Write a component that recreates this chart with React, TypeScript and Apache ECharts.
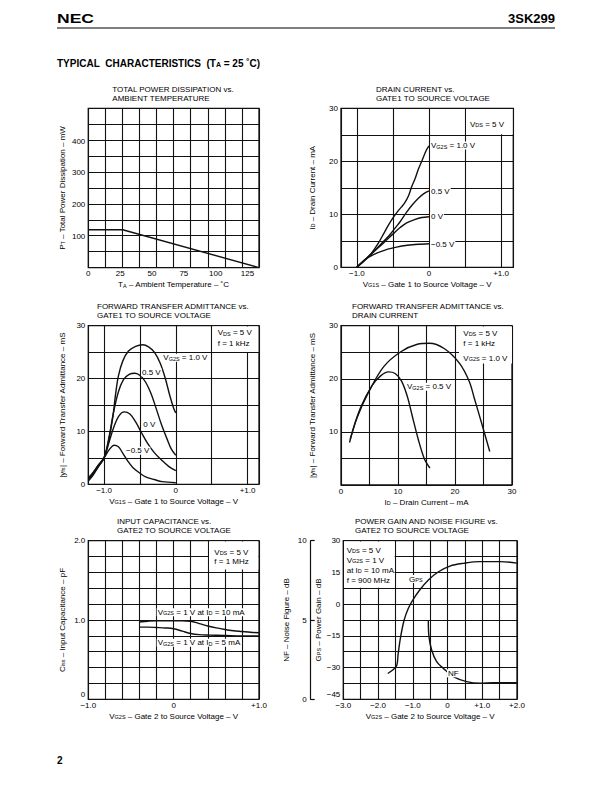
import React, { useEffect, useRef } from "react";
import * as echarts from "echarts";

const FONT = "'Liberation Sans', Arial, Helvetica, sans-serif";
const INK = "#111";

// ---------------- data ----------------
// 1. Total power dissipation vs ambient temperature
const pdTemperature = [0, 27, 134];
const pdPower = [120, 120, 0];
const pdXTicks = [0, 25, 50, 75, 100, 125];
const pdYTicks = [100, 200, 300, 400];

// 2. Drain current vs gate1-source voltage  [VG1S, ID]
const idVg2s10 = [[-1, 0], [-0.9, 1.2], [-0.8, 2.6], [-0.7, 4.6], [-0.63, 6.3], [-0.56, 8.0], [-0.49, 9.5], [-0.43, 10.6], [-0.38, 11.4], [-0.33, 12.3], [-0.28, 13.6], [-0.24, 15.2], [-0.19, 16.8], [-0.15, 18.4], [-0.1, 20.0], [-0.04, 22.0], [0, 22.9]];
const idVg2s05 = [[-1, 0], [-0.9, 1.3], [-0.8, 2.5], [-0.72, 3.6], [-0.63, 4.9], [-0.54, 6.2], [-0.47, 7.4], [-0.4, 8.6], [-0.31, 10.4], [-0.23, 11.8], [-0.15, 13.0], [-0.07, 13.9], [0, 14.4]];
const idVg2s00 = [[-1, 0], [-0.88, 1.5], [-0.77, 2.9], [-0.63, 4.6], [-0.49, 6.4], [-0.4, 7.5], [-0.31, 8.4], [-0.2, 9.0], [-0.1, 9.4], [0, 9.55]];
const idVg2sM05 = [[-1, 0], [-0.9, 1.3], [-0.77, 2.4], [-0.6, 3.3], [-0.45, 3.8], [-0.3, 4.15], [-0.15, 4.35], [0, 4.45]];
const idYTicks = [0, 10, 20, 30];
const gateXTicks = [-1, 0, 1];
const gateXText = ["\u22121.0", "0", "+1.0"];

// 3. |yfs| vs gate1-source voltage  [VG1S, yfs]
const yfsVgVg2s10 = [[-1.22, 0.6], [-1.15, 1.8], [-1.08, 3.3], [-1.0, 5.0], [-0.94, 8.0], [-0.88, 12.5], [-0.84, 17.0], [-0.8, 20.5], [-0.74, 23.3], [-0.66, 25.2], [-0.56, 26.1], [-0.46, 26.4], [-0.38, 26.0], [-0.3, 25.0], [-0.22, 23.0], [-0.15, 20.2], [-0.08, 16.6], [-0.03, 14.4], [0, 13.5]];
const yfsVgVg2s05 = [[-1.22, 0.8], [-1.15, 2.0], [-1.08, 3.4], [-1.0, 5.0], [-0.93, 9.0], [-0.87, 13.5], [-0.8, 17.5], [-0.73, 19.8], [-0.65, 20.8], [-0.57, 21.0], [-0.49, 20.5], [-0.42, 19.3], [-0.35, 17.3], [-0.28, 14.6], [-0.2, 11.3], [-0.12, 8.5], [-0.06, 6.6], [0, 5.5]];
const yfsVgVg2s00 = [[-1.22, 1.0], [-1.15, 2.2], [-1.08, 3.6], [-1.0, 5.0], [-0.93, 8.0], [-0.86, 11.0], [-0.79, 13.0], [-0.72, 13.7], [-0.64, 13.3], [-0.56, 11.8], [-0.48, 9.8], [-0.4, 7.9], [-0.3, 6.0], [-0.2, 4.6], [-0.1, 3.4], [0, 2.6]];
const yfsVgVg2sM05 = [[-1.22, 1.2], [-1.15, 2.3], [-1.08, 3.6], [-1.0, 5.0], [-0.93, 6.5], [-0.86, 7.4], [-0.8, 7.1], [-0.74, 5.9], [-0.67, 4.4], [-0.6, 3.2], [-0.5, 2.1], [-0.42, 1.4], [-0.3, 0.9], [-0.19, 0.5], [0, 0.3]];

// 4. |yfs| vs drain current  [ID, yfs]
const yfsIdVg2s10 = [[1.5, 8.0], [2.8, 12.6], [4.9, 17.6], [7.5, 22.3], [10.5, 25.1], [13.4, 26.5], [15.5, 26.7], [18.1, 25.7], [20.8, 22.9], [22.5, 19.5], [23.4, 16.3], [24.6, 11.9], [26.1, 6.3]];
const yfsIdVg2s05 = [[1.6, 8.6], [3.4, 14.5], [5.5, 18.8], [7.0, 20.6], [8.3, 21.3], [9.5, 21.0], [10.6, 19.6], [11.6, 16.8], [12.5, 13.0], [13.5, 8.8], [14.6, 5.0], [15.6, 3.2]];
const idXTicks = [0, 10, 20, 30];
const yfsYTicks = [10, 20, 30];

// 5. Input capacitance vs gate2-source voltage  [VG2S, Ciss]
const cissId10 = [[-0.4, 0.975], [-0.3, 0.985], [-0.2, 0.99], [0, 0.99], [0.1, 0.99], [0.2, 0.985], [0.3, 0.955], [0.4, 0.925], [0.5, 0.9], [0.6, 0.88], [0.7, 0.865], [0.8, 0.855], [0.9, 0.845], [1.0, 0.84]];
const cissId5 = [[-0.4, 0.91], [-0.3, 0.91], [-0.2, 0.905], [-0.1, 0.9], [0, 0.89], [0.1, 0.86], [0.2, 0.83], [0.3, 0.815], [0.4, 0.81], [0.6, 0.805], [0.8, 0.8], [1.0, 0.8]];
const cissYTicks = [0, 1, 2];
const cissYText = ["{b|0}", "1.0", "2.0"];

// 6. Power gain and noise figure vs gate2-source voltage
const gpsCurve = [[-1.72, -32.8], [-1.56, -30.9], [-1.46, -28.9], [-1.42, -23.4], [-1.35, -15.5], [-1.25, -7.6], [-1.13, -2.1], [-1.0, 1.9], [-0.79, 6.9], [-0.55, 11.4], [-0.26, 15.3], [0.07, 18.0], [0.46, 19.3], [0.93, 20.1], [1.51, 20.1], [2.0, 19.4]];
const nfCurve = [[-0.553, 4.94], [-0.534, 3.95], [-0.457, 3.11], [-0.313, 2.37], [-0.12, 1.95], [0.167, 1.43], [0.551, 1.11], [0.935, 1.01], [1.32, 1.05], [2.0, 1.05]];
const g2XTicks = [-3, -2, -1, 0, 1, 2];
const g2XText = ["\u22123.0", "\u22122.0", "\u22121.0", "0", "+1.0", "+2.0"];
const gpsYTicks = [-45, -30, -15, 0, 15, 30];
const gpsYText = ["{b|\u221245}", "\u221230", "\u221215", "0", "15", "30"];
const nfYTicks = [0, 5, 10];

// ---------------- helpers ----------------
const near = (a: number, b: number) => Math.abs(a - b) < 1e-6;
const fmt = (ticks: number[], texts?: string[]) => (v: number) => {
  const i = ticks.findIndex((t) => near(t, v));
  return i < 0 ? "" : texts ? texts[i] : String(ticks[i]);
};

const RICH_EC = { s: { fontSize: 5.5, fontFamily: FONT, color: "#000", verticalAlign: "bottom" } };
const RICH_G = { s: { fontSize: 5.5, fontFamily: FONT, fill: "#000", verticalAlign: "bottom" } };
const labelStyle = {
  fontSize: 8, fontFamily: FONT, color: "#000",
  rich: { b: { fontSize: 8, fontFamily: FONT, color: "#000", padding: [0, 0, 9, 0] } },
};
const nameStyle = { fontSize: 8, fontFamily: FONT, color: "#000", rich: RICH_EC };
const gridLine = { show: true, lineStyle: { color: INK, width: 1.1 } };
const noLine = { show: false };

function mainX(gridIndex: number, min: number, max: number, extra: any, ticks: number[], texts: string[] | undefined, name: string) {
  return {
    type: "value", gridIndex, min, max, ...extra,
    axisLine: noLine, axisTick: noLine,
    axisLabel: { ...labelStyle, margin: 2, formatter: fmt(ticks, texts), hideOverlap: false, showMinLabel: true, showMaxLabel: true },
    name, nameLocation: "middle", nameGap: 13, nameTextStyle: nameStyle, nameMoveOverlap: false,
  };
}
function mainY(gridIndex: number, min: number, max: number, extra: any, ticks: number[], texts: string[] | undefined, name: string, gap: number) {
  return {
    type: "value", gridIndex, min, max, ...extra,
    axisLine: noLine, axisTick: noLine,
    axisLabel: { ...labelStyle, margin: 3, formatter: fmt(ticks, texts), hideOverlap: false, showMinLabel: true, showMaxLabel: true },
    name, nameLocation: "middle", nameGap: gap, nameTextStyle: nameStyle, nameMoveOverlap: false,
  };
}
function curve(xi: number, yi: number, data: number[][], smooth: number | boolean = 0.35) {
  return {
    type: "line", xAxisIndex: xi, yAxisIndex: yi, data, symbol: "none", smooth,
    lineStyle: { color: INK, width: 1.4 }, z: 3, silent: true,
  };
}
function text(x: number, y: number, t: string, extra: any = {}) {
  return {
    type: "text", x, y, z: 20, silent: true,
    style: { text: t, fontSize: 8, fontFamily: FONT, fill: "#000", align: "left", verticalAlign: "middle", rich: RICH_G, ...extra },
  };
}
function box(x: number, y: number, w: number, h: number) {
  return { type: "rect", z: 1, silent: true, shape: { x, y, width: w, height: h }, style: { fill: "#fff" } };
}
const bg = { backgroundColor: "#fff", padding: [0, 1] };

const gridBase = { show: true, borderColor: INK, borderWidth: 1.3, backgroundColor: "transparent", containLabel: false, outerBoundsMode: "none" };

export default function App() {
  const ref = useRef<HTMLDivElement>(null);
  useEffect(() => {
    if (!ref.current) return;
    const chart = echarts.init(ref.current, undefined, { renderer: "svg" });
    const gateMinMax = { minInterval: 0.5, maxInterval: 0.5 };
    const option: any = {
      animation: false,
      backgroundColor: "#fff",
      grid: [
        { ...gridBase, left: 88.3, top: 108.3, width: 170.7, height: 159.3 },
        { ...gridBase, left: 341, top: 108.3, width: 172.3, height: 159 },
        { ...gridBase, left: 88.3, top: 325.7, width: 170.7, height: 158.6 },
        { ...gridBase, left: 341, top: 325.7, width: 171, height: 159.3 },
        { ...gridBase, left: 88.3, top: 540.7, width: 170.7, height: 158.6 },
        { ...gridBase, left: 343.3, top: 540.7, width: 173.7, height: 158.6 },
      ],
      xAxis: [
        { ...mainX(0, 0, 134, { interval: 25 }, pdXTicks, undefined, "T{s|A} \u2013 Ambient Temperature \u2013 \u02daC"), splitLine: noLine },
        { type: "value", gridIndex: 0, position: "top", min: 0, max: 10, interval: 1, axisLine: noLine, axisTick: noLine, axisLabel: noLine, splitLine: gridLine },
        { ...mainX(1, -1.22, 1.17, gateMinMax, gateXTicks, gateXText, "V{s|G1S} \u2013 Gate 1 to Source Voltage \u2013 V"), splitLine: gridLine },
        { ...mainX(2, -1.22, 1.16, gateMinMax, gateXTicks, gateXText, "V{s|G1S} \u2013 Gate 1 to Source Voltage \u2013 V"), splitLine: gridLine },
        { ...mainX(3, 0, 30, { interval: 5 }, idXTicks, undefined, "I{s|D} \u2013 Drain Current \u2013 mA"), splitLine: gridLine },
        { ...mainX(4, -1, 1, { interval: 0.2 }, gateXTicks, gateXText, "V{s|G2S} \u2013 Gate 2 to Source Voltage \u2013 V"), splitLine: gridLine },
        { ...mainX(5, -3, 2, { interval: 0.5 }, g2XTicks, g2XText, "V{s|G2S} \u2013 Gate 2 to Source Voltage \u2013 V"), splitLine: gridLine },
      ],
      yAxis: [
        { ...mainY(0, 0, 505, { interval: 100 }, pdYTicks, undefined, "P{s|T} \u2013 Total Power Dissipation \u2013 mW", 22), splitLine: noLine },
        { type: "value", gridIndex: 0, position: "right", min: 0, max: 10, interval: 1, axisLine: noLine, axisTick: noLine, axisLabel: noLine, splitLine: gridLine },
        { ...mainY(1, 0, 30, { interval: 5 }, idYTicks, undefined, "I{s|D} \u2013 Drain Current \u2013 mA", 25), splitLine: gridLine },
        { ...mainY(2, 0, 30, { interval: 5 }, idYTicks, undefined, "|y{s|fs}| \u2013 Forward Transfer Admittance \u2013 mS", 22), splitLine: gridLine },
        { ...mainY(3, 0, 30, { interval: 5 }, yfsYTicks, undefined, "|y{s|fs}| \u2013 Forward Transfer Admittance \u2013 mS", 25), splitLine: gridLine },
        { ...mainY(4, 0, 2, { interval: 0.2 }, cissYTicks, cissYText, "C{s|iss} \u2013 Input Capacitance \u2013 pF", 22), splitLine: gridLine },
        { ...mainY(5, -45, 30, { interval: 7.5 }, gpsYTicks, gpsYText, "G{s|PS} \u2013 Power Gain \u2013 dB", 21), splitLine: gridLine },
        {
          type: "value", gridIndex: 5, position: "left", offset: 32.6, min: 0, max: 10, interval: 5,
          axisLine: { show: true, lineStyle: { color: INK, width: 1.2 } },
          axisTick: { show: true, inside: true, length: 4, lineStyle: { color: INK, width: 1.2 } },
          axisLabel: { ...labelStyle, margin: 4, formatter: fmt(nfYTicks) },
          splitLine: noLine,
          name: "NF \u2013 Noise Figure \u2013 dB", nameLocation: "middle", nameGap: 20, nameTextStyle: nameStyle, nameMoveOverlap: false,
        },
      ],
      series: [
        curve(0, 0, pdTemperature.map((t, i) => [t, pdPower[i]]), false),
        curve(2, 2, idVg2s10, 0.3),
        curve(2, 2, idVg2s05, 0.3),
        curve(2, 2, idVg2s00, 0.3),
        curve(2, 2, idVg2sM05, 0.3),
        curve(3, 3, yfsVgVg2s10, 0.35),
        curve(3, 3, yfsVgVg2s05, 0.35),
        curve(3, 3, yfsVgVg2s00, 0.35),
        curve(3, 3, yfsVgVg2sM05, 0.35),
        curve(4, 4, yfsIdVg2s10, 0.35),
        curve(4, 4, yfsIdVg2s05, 0.35),
        curve(5, 5, cissId10, 0.35),
        curve(5, 5, cissId5, 0.35),
        curve(6, 6, gpsCurve, 0.35),
        curve(6, 7, nfCurve, 0.35),
      ],
      graphic: [
        // page header
        { type: "text", x: 57, y: 18, scaleX: 1.35, z: 20, style: { text: "NEC", fontSize: 13, fontWeight: "bold", fontFamily: FONT, fill: "#000", verticalAlign: "middle" } },
        text(555, 18, "3SK299", { fontSize: 13, fontWeight: "bold", align: "right" }),
        { type: "line", z: 20, shape: { x1: 57, y1: 28, x2: 555, y2: 28 }, style: { stroke: "#000", lineWidth: 1.2 } },
        text(57, 63, "TYPICAL\u00a0 CHARACTERISTICS\u00a0 (T{s|A} = 25 \u02daC)", { fontSize: 10, fontWeight: "bold", rich: { s: { fontSize: 7, fontWeight: "bold", fontFamily: FONT, fill: "#000", verticalAlign: "bottom" } } }),
        text(57, 760, "2", { fontSize: 10, fontWeight: "bold" }),
        // chart titles
        text(112.3, 89.5, "TOTAL POWER DISSIPATION vs."),
        text(112.3, 98.5, "AMBIENT TEMPERATURE"),
        text(376, 89.5, "DRAIN CURRENT vs."),
        text(376, 98.5, "GATE1 TO SOURCE VOLTAGE"),
        text(97, 306.7, "FORWARD TRANSFER ADMITTANCE vs."),
        text(97, 315.7, "GATE1 TO SOURCE VOLTAGE"),
        text(352, 306.7, "FORWARD TRANSFER ADMITTANCE vs."),
        text(352, 315.7, "DRAIN CURRENT"),
        text(117, 521.7, "INPUT CAPACITANCE vs."),
        text(117, 530.7, "GATE2 TO SOURCE VOLTAGE"),
        text(355, 521.7, "POWER GAIN AND NOISE FIGURE vs."),
        text(355, 530.7, "GATE2 TO SOURCE VOLTAGE"),
        // chart 2 annotations
        box(466.3, 109, 46.3, 25.3),
        text(470, 124, "V{s|DS} = 5 V"),
        text(430, 145.5, "V{s|G2S} = 1.0 V", bg),
        text(430, 191.5, "0.5 V", bg),
        text(430, 216.5, "0 V", bg),
        text(430, 244.3, "\u22120.5 V", bg),
        // chart 3 annotations
        box(212.5, 326.5, 45.8, 25.5),
        text(217.7, 332.7, "V{s|DS} = 5 V"),
        text(217.7, 343.3, "f = 1 kHz"),
        text(162.3, 357.7, "V{s|G2S} = 1.0 V", bg),
        text(141, 372.3, "0.5 V", bg),
        text(142.3, 424.3, "0 V", bg),
        text(125, 450.7, "\u22120.5 V", bg),
        // chart 4 annotations
        box(459, 326.5, 53, 37),
        text(463.3, 333.3, "V{s|DS} = 5 V"),
        text(463.3, 343.3, "f = 1 kHz"),
        text(463.3, 358.3, "V{s|G2S} = 1.0 V"),
        text(406, 386.7, "V{s|G2S} = 0.5 V", bg),
        // chart 5 annotations
        box(209, 541.5, 49.3, 28),
        text(214.3, 552.3, "V{s|DS} = 5 V"),
        text(214.3, 561.7, "f = 1 MHz"),
        text(156.7, 612.3, "V{s|G2S} = 1 V at I{s|D} = 10 mA", bg),
        text(156.7, 642.7, "V{s|G2S} = 1 V at I{s|D} = 5 mA", bg),
        // chart 6 annotations
        box(344, 541.5, 50.6, 46.3),
        text(346.7, 550, "V{s|DS} = 5 V"),
        text(346.7, 560, "V{s|G2S} = 1 V"),
        text(346.7, 570, "at I{s|D} = 10 mA"),
        text(346.7, 580, "f = 900 MHz"),
        text(408, 579, "G{s|PS}", bg),
        text(447, 673.3, "NF", bg),
      ],
    };
    chart.setOption(option);
    return () => chart.dispose();
  }, []);
  return <div ref={ref} style={{ position: "fixed", left: 0, top: 0, width: 612, height: 792, background: "#fff" }} />;
}
